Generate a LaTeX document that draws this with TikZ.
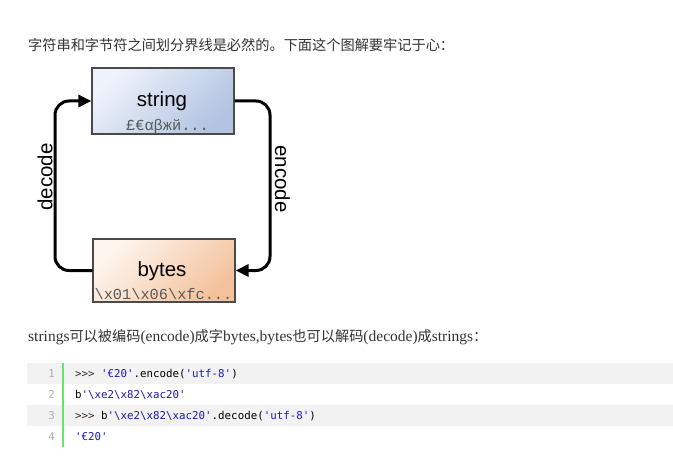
\documentclass[tikz,border=0pt]{standalone}
\usepackage{fontspec}
\setmainfont{Liberation Serif}
\newfontfamily\cjk{Noto Sans CJK SC}
\newfontfamily\arialf{Liberation Sans}
\newfontfamily\courf{Liberation Mono}
\newfontfamily\consf{DejaVu Sans Mono}
\usetikzlibrary{arrows.meta}
\definecolor{txt}{HTML}{333333}
\definecolor{rowgray}{HTML}{F2F2F2}
\definecolor{codegreen}{HTML}{6CE26C}
\definecolor{numgray}{HTML}{AFAFAF}
\definecolor{strblue}{HTML}{1A1AB4}
\definecolor{prompt}{HTML}{3A2A20}
\definecolor{monogray}{HTML}{5A5A5A}
\definecolor{boxborder}{HTML}{4A4A4A}
\definecolor{blueA}{HTML}{EEF2FA}
\definecolor{blueB}{HTML}{B2C4E2}
\definecolor{orangeA}{HTML}{FEF5EE}
\definecolor{orangeB}{HTML}{F3C29C}
\newcommand{\zh}[1]{{\cjk\fontsize{14.2}{16}\selectfont #1}}
\tikzset{
  box/.style={draw=boxborder, line width=1.2pt, minimum width=142pt, inner sep=0pt},
  conn/.style={line width=3pt, rounded corners=14pt, -{Triangle[length=13pt,width=12pt]}},
  lbl/.style={font=\arialf\fontsize{20.5}{24}\selectfont, inner sep=0pt},
  bigtxt/.style={font=\arialf\fontsize{20.5}{24}\selectfont, inner sep=0pt, anchor=base},
  subtxt/.style={font=\courf\fontsize{15.3}{18}\selectfont, text=monogray, inner sep=0pt, anchor=base},
  codetxt/.style={font=\consf\fontsize{10.8}{13}\selectfont, inner sep=0pt, anchor=base west},
  numtxt/.style={font=\consf\fontsize{10.8}{13}\selectfont, text=numgray, inner sep=0pt, anchor=base east},
  para/.style={text=txt, inner sep=0pt, anchor=west}
}
\begin{document}
\begin{tikzpicture}[x=1pt,y=-1pt]
\useasboundingbox[fill=white] (0,0) rectangle (673,460);

% heading
\node[para] (title) at (28,45)
  {\zh{字符串和字节符之间划分界线是必然的。下面这个图解要牢记于心：}};

% boxes
\node[box, minimum height=66pt, top color=blueA, bottom color=blueB, shading angle=45] (string) at (163,101) {};
\node[box, minimum height=63pt, top color=orangeA, bottom color=orangeB, shading angle=45] (bytes) at (164,270.5) {};

\node[bigtxt] (stringlbl) at (162,106.5) {string};
\node[subtxt] (stringsub) at (167.5,130.5) {£€αβжй...};
\node[bigtxt] (byteslbl) at (162,276.5) {bytes};
\node[subtxt] (bytessub) at (163.5,299) {\textbackslash x01\textbackslash x06\textbackslash xfc...};

% connectors
\coordinate (lb) at (55,270.5);
\coordinate (lt) at (55,101);
\coordinate (rt) at (270,101);
\coordinate (rb) at (270,270.5);
\draw[conn] (bytes.west) -- (lb) -- (lt) -- (string.west);
\draw[conn] (string.east) -- (rt) -- (rb) -- (bytes.east);

\node[lbl, rotate=90] (dec) at (45,177) {decode};
\node[lbl, rotate=-90] (enc) at (282.5,179) {encode};

% second paragraph
\node[para, font=\fontsize{15.5}{18}\selectfont] (line2) at (28,337)
  {strings\zh{可以被编码}(encode)\zh{成字}bytes,bytes\zh{也可以解码}(decode)\zh{成}strings\zh{：}};

% code block
\fill[rowgray] (27,363) rectangle (673,384);
\fill[rowgray] (27,405) rectangle (673,426);
\fill[codegreen] (61.5,363) rectangle (63.5,447);

\node[numtxt] (n1) at (55,377.5) {1};
\node[numtxt] (n2) at (55,398.5) {2};
\node[numtxt] (n3) at (55,419.5) {3};
\node[numtxt] (n4) at (55,440.5) {4};

\node[codetxt] (c1) at (75,377.5) {\textcolor{prompt}{>>>} \textcolor{strblue}{'€20'}.encode(\textcolor{strblue}{'utf-8'})};
\node[codetxt] (c2) at (75,398.5) {b\textcolor{strblue}{'\textbackslash xe2\textbackslash x82\textbackslash xac20'}};
\node[codetxt] (c3) at (75,419.5) {\textcolor{prompt}{>>>} b\textcolor{strblue}{'\textbackslash xe2\textbackslash x82\textbackslash xac20'}.decode(\textcolor{strblue}{'utf-8'})};
\node[codetxt] (c4) at (75,440.5) {\textcolor{strblue}{'€20'}};
\end{tikzpicture}
\end{document}
